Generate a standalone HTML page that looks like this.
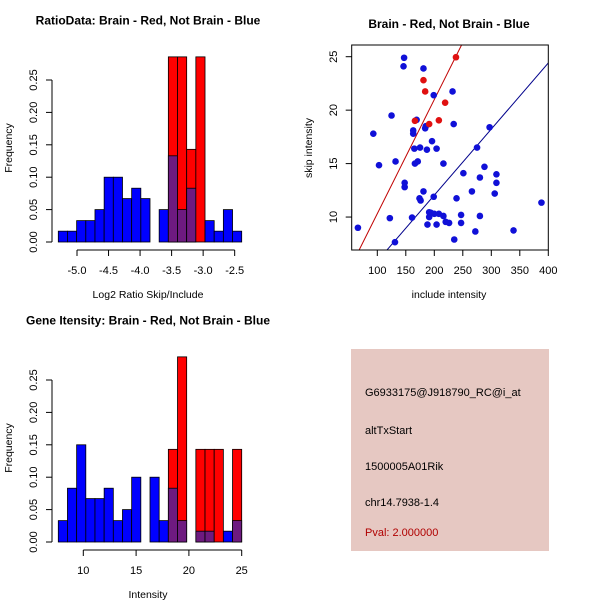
<!DOCTYPE html>
<html><head><meta charset="utf-8"><style>
body{margin:0;background:#fff}
svg{display:block;font-family:"Liberation Sans",sans-serif}
</style></head><body>
<svg id="c" width="600" height="600" viewBox="0 0 600 600">
<rect x="351" y="349" width="198" height="202" fill="#e6c8c2"/>
<text x="365" y="396" font-size="11">G6933175@J918790_RC@i_at</text>
<text x="365" y="434" font-size="11">altTxStart</text>
<text x="365" y="470" font-size="11">1500005A01Rik</text>
<text x="365" y="506" font-size="11">chr14.7938-1.4</text>
<text x="365" y="536" font-size="11" fill="#b00000">Pval: 2.000000</text>
</svg>
<script>
// ---- data: ratio histogram ----
const ratioBlue=[0.0167,0.0167,0.033,0.033,0.05,0.1,0.1,0.067,0.083,0.067,0,0.05,0.133,0.05,0.083,0,0.033,0.0167,0.05,0.0167];
const ratioRed=[0,0,0,0,0,0,0,0,0,0,0,0,0.2857,0.2857,0.143,0.2857,0,0,0,0];
const ratioTicks=[-5.0,-4.5,-4.0,-3.5,-3.0,-2.5];
// ---- data: intensity histogram ----
const intBlue=[0.033,0.083,0.15,0.067,0.067,0.083,0.033,0.05,0.1,0,0.1,0.033,0.083,0.033,0,0.0167,0.0167,0,0.0167,0.033];
const intRed=[0,0,0,0,0,0,0,0,0,0,0,0,0.143,0.2857,0,0.143,0.143,0.143,0,0.143];
const intTicks=[10,15,20,25];
const freqTicks=[0,0.05,0.10,0.15,0.20,0.25];
// ---- data: scatter ----
const blueX=[147,146,181,232,199,125,93,169,163,163,185,184,234,297,196,165,175,187,204,275,103,132,166,171,216,288,251,309,280,309,148,148,181,266,306,199,174,176,239,388,191,194,200,208,216,247,280,122,161,191,220,226,247,188,204,66,272,339,235,131];
const blueY=[24.9,24.1,23.9,21.75,21.4,19.5,17.8,19.1,18.1,17.8,18.5,18.3,18.7,18.4,17.1,16.4,16.5,16.3,16.4,16.5,14.85,15.2,15.0,15.2,15.0,14.7,14.1,14.0,13.7,13.2,13.2,12.8,12.4,12.4,12.2,11.9,11.75,11.55,11.75,11.35,10.45,10.4,10.3,10.3,10.1,10.2,10.1,9.9,9.95,10.0,9.55,9.45,9.45,9.3,9.3,9.0,8.65,8.75,7.9,7.65];
const redX=[238,181,184,219,208,191,166];
const redY=[24.95,22.8,21.75,20.7,19.05,18.7,19.0];
const lineSlopes=[0.1067,0.0618];
const lineIntercepts=[-0.35,-0.31];
const scXTicks=[100,150,200,250,300,350,400];
const scYTicks=[10,15,20,25];

const svg=document.getElementById('c');
const NS='http://www.w3.org/2000/svg';
function mk(tag,attrs,parent){const e=document.createElementNS(NS,tag);for(const k in attrs)e.setAttribute(k,attrs[k]);(parent||svg).appendChild(e);return e;}
function txt(x,y,s,attrs){const e=mk('text',Object.assign({x:x,y:y,'font-size':11,'text-anchor':'middle'},attrs||{}));e.textContent=s;return e;}

function histogram(oy,blue,red,ticks,xs,title,xlab,nm){
  const y=v=>oy+242-v*648;
  const x0=58.3,bw=9.17;
  const g=mk('g',{});
  
  
  for(let i=0;i<blue.length;i++){
    const bx=x0+i*bw;
    if(red[i]>0){
      const r=mk('rect',{x:bx,y:y(red[i]),width:bw,height:y(0)-y(red[i]),fill:'#ff0000',stroke:'#000','stroke-width':0.8},g);
      
      
      if(blue[i]>0){
        const p=mk('rect',{x:bx,y:y(blue[i]),width:bw,height:y(0)-y(blue[i]),fill:'#6e1a80',stroke:'#000','stroke-width':0.8},g);
        
        
      }
    } else if(blue[i]>0){
      const b=mk('rect',{x:bx,y:y(blue[i]),width:bw,height:y(0)-y(blue[i]),fill:'#0000ff',stroke:'#000','stroke-width':0.8},g);
      
      
    }
  }
  mk('line',{x1:52,x2:52,y1:y(0),y2:y(0.25),stroke:'#000'},g);
  freqTicks.forEach(t=>{
    mk('line',{x1:46,x2:52,y1:y(t),y2:y(t),stroke:'#000'},g);
    txt(0,0,t.toFixed(2),{transform:`translate(37,${y(t)}) rotate(-90)`});
  });
  const ax=oy+250;
  mk('line',{x1:xs(ticks[0]),x2:xs(ticks[ticks.length-1]),y1:ax,y2:ax,stroke:'#000'},g);
  ticks.forEach(t=>{
    mk('line',{x1:xs(t),x2:xs(t),y1:ax,y2:ax+6,stroke:'#000'},g);
    txt(xs(t),ax+24,t%1===0&&Math.abs(t)<6?t.toFixed(1):String(t));
  });
  const tl=txt(148,oy+24+0.5,title,{'font-weight':'bold','font-size':12});
  
  
  txt(148,oy+298,xlab,{'font-size':10.5});
  txt(0,0,'Frequency',{'font-size':10.5,transform:`translate(12,${oy+148}) rotate(-90)`});
}
const ratioX=v=>77+(v+5)*63.07;
histogram(0,ratioBlue,ratioRed,ratioTicks,ratioX,'RatioData: Brain - Red, Not Brain - Blue','Log2 Ratio Skip/Include','ratio-histogram');
// fix tick label format for intensity
const intX=v=>83.3+(v-10)*10.56;
histogram(300,intBlue,intRed,intTicks,v=>intX(v),'Gene Itensity: Brain - Red, Not Brain - Blue','Intensity','intensity-histogram');
// intensity tick labels should be integers
Array.from(svg.querySelectorAll('text')).forEach(t=>{if(['10.0','15.0','20.0','25.0'].includes(t.textContent))t.textContent=String(parseInt(t.textContent));});

// ---- scatter ----
const sx=v=>377.3+(v-100)*0.57;
const sy=v=>56.7+(25-v)*10.69;
const L=351.7,R=548.3,T=45,B=250;
mk('defs',{}).innerHTML=`<clipPath id="clip"><rect x="${L}" y="${T}" width="${R-L}" height="${B-T}"/></clipPath>`;
const sg=mk('g',{});


const lineCols=['#c00000','#00008b'];
const xmin=(L-377.3)/0.57+100,xmax=(R-377.3)/0.57+100;
lineSlopes.forEach((m,i)=>{
  const l=mk('line',{x1:sx(xmin),y1:sy(m*xmin+lineIntercepts[i]),x2:sx(xmax),y2:sy(m*xmax+lineIntercepts[i]),stroke:lineCols[i],'stroke-width':1,'clip-path':'url(#clip)'},sg);
  
  
});
blueX.forEach((v,i)=>{
  const c=mk('circle',{cx:sx(v),cy:sy(blueY[i]),r:3.3,fill:'#1010d8'},sg);
  
  
});
redX.forEach((v,i)=>{
  const c=mk('circle',{cx:sx(v),cy:sy(redY[i]),r:3.3,fill:'#e01010'},sg);
  
  
});
mk('rect',{x:L,y:T,width:R-L,height:B-T,fill:'none',stroke:'#000'},sg);
scXTicks.forEach(t=>{mk('line',{x1:sx(t),x2:sx(t),y1:B,y2:B+6,stroke:'#000'},sg);txt(sx(t),B+24,String(t));});
scYTicks.forEach(t=>{mk('line',{x1:L-6,x2:L,y1:sy(t),y2:sy(t),stroke:'#000'},sg);txt(0,0,String(t),{transform:`translate(337,${sy(t)}) rotate(-90)`});});
txt(449,298,'include intensity',{'font-size':10.5});
txt(0,0,'skip intensity',{'font-size':10.5,transform:`translate(312,148) rotate(-90)`});
const st=txt(449,28,'Brain - Red, Not Brain - Blue',{'font-weight':'bold','font-size':12});


</script>
</body></html>
